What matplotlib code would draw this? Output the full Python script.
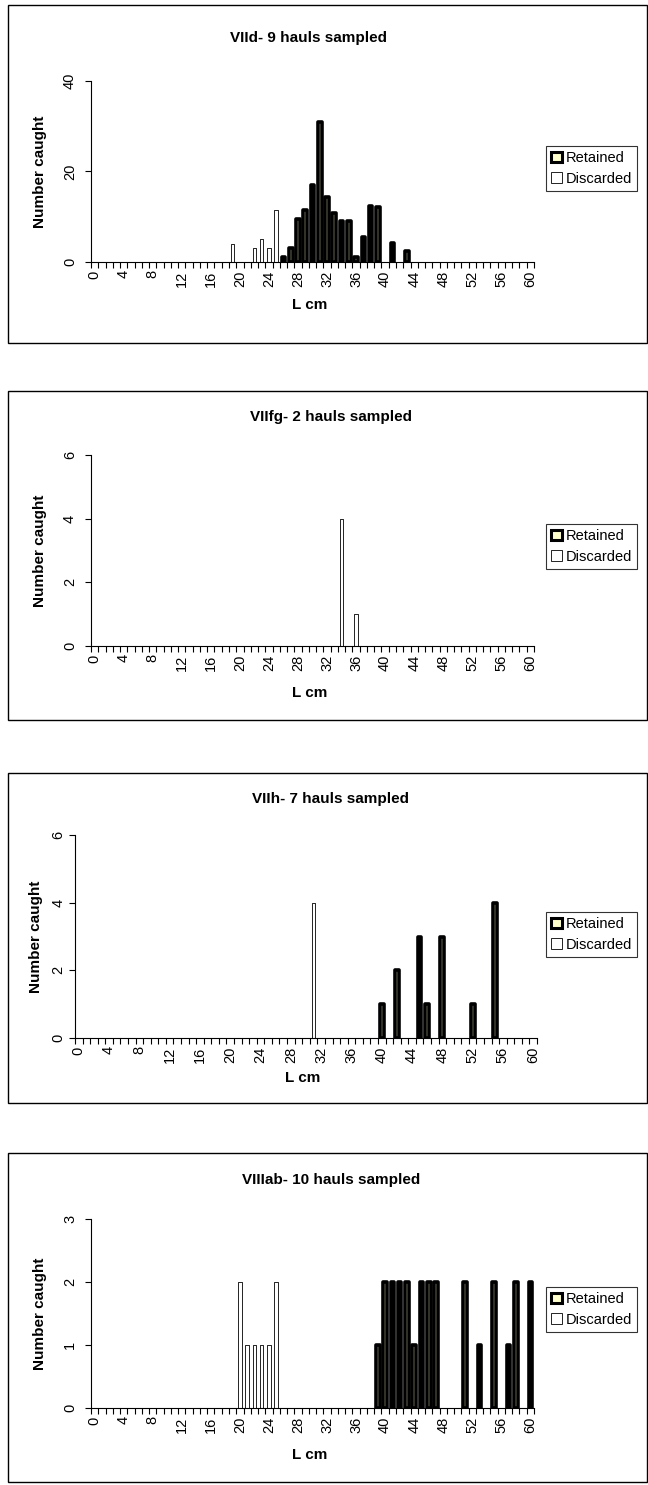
import matplotlib
matplotlib.use('Agg')
import matplotlib.pyplot as plt
from matplotlib.patches import Rectangle, Patch
import numpy as np

plt.rcParams['font.family'] = ['Liberation Sans', 'DejaVu Sans']

W, H = 648, 1485

# VIId - 9 hauls
d_ret_len = [26, 27, 28, 29, 30, 31, 32, 33, 34, 35, 36, 37, 38, 39, 41, 43]
d_ret_n = [1, 3, 9.5, 11.5, 17, 31, 14.3, 10.8, 9, 9, 1, 5.5, 12.4, 12.2, 4.3, 2.4]
d_dis_len = [19, 22, 23, 24, 25]
d_dis_n = [4, 3, 5, 3, 11.5]

# VIIfg - 2 hauls
fg_ret_len = []
fg_ret_n = []
fg_dis_len = [34, 36]
fg_dis_n = [4, 1]

# VIIh - 7 hauls
h_ret_len = [40, 42, 45, 46, 48, 52, 55]
h_ret_n = [1, 2, 3, 1, 3, 1, 4]
h_dis_len = [31]
h_dis_n = [4]

# VIIIab - 10 hauls
ab_ret_len = [39, 40, 41, 42, 43, 44, 45, 46, 47, 51, 53, 55, 57, 58, 60]
ab_ret_n = [1, 2, 2, 2, 2, 1, 2, 2, 2, 2, 1, 2, 1, 2, 2]
ab_dis_len = [20, 21, 22, 23, 24, 25]
ab_dis_n = [2, 1, 1, 1, 1, 2]

titles = ['VIId- 9 hauls sampled', 'VIIfg- 2 hauls sampled',
          'VIIh- 7 hauls sampled', 'VIIIab- 10 hauls sampled']
y_ticks = [[0, 20, 40], [0, 2, 4, 6], [0, 2, 4, 6], [0, 1, 2, 3]]
x_labels = list(range(0, 61, 4))

ret_color = '#FFFFCC'


def fig_rect(left, right, top, bottom):
    return [left / W, 1 - bottom / H, (right - left) / W, (bottom - top) / H]


fig = plt.figure(figsize=(W / 100, H / 100), dpi=100)

# (box top, box bottom, axes left, axes right, axes top, axes bottom, legend top,
#  title x, title y, xlabel y, ylabel x, ytick pad)
layout = [
    (5, 343, 91, 534, 81, 262, 146, 308, 38, 305, 40, 6),
    (391, 720, 91, 534, 455, 646, 524, 331, 417, 693, 40, 6),
    (773, 1103, 75, 537, 835, 1038, 912, 330, 799, 1078, 36, 3),
    (1153, 1482, 91, 534, 1219, 1408, 1287, 331, 1180, 1455, 40, 6),
]
series = [
    (d_ret_len, d_ret_n, d_dis_len, d_dis_n),
    (fg_ret_len, fg_ret_n, fg_dis_len, fg_dis_n),
    (h_ret_len, h_ret_n, h_dis_len, h_dis_n),
    (ab_ret_len, ab_ret_n, ab_dis_len, ab_dis_n),
]

for i in range(4):
    btop, bbot, al, ar, at, ab, legtop, tx, ty, xly, ylx, ypad = layout[i]
    ret_len, ret_n, dis_len, dis_n = series[i]

    fig.add_artist(Rectangle((8 / W, 1 - bbot / H), 639 / W, (bbot - btop) / H,
                             transform=fig.transFigure, fill=False, edgecolor='black', lw=1.0))

    ax = fig.add_axes(fig_rect(al, ar, at, ab))
    ax.bar(dis_len, dis_n, width=0.5, color='white', edgecolor='black', linewidth=0.6,
           joinstyle='round')
    if ret_len:
        ax.bar(ret_len, ret_n, width=0.5, color=ret_color, edgecolor='black', linewidth=2.6,
               joinstyle='round')

    ax.set_xlim(-0.5, 60.5)
    ax.set_ylim(y_ticks[i][0], y_ticks[i][-1])
    ax.set_xticks(x_labels)
    ax.set_xticklabels([str(v) for v in x_labels], rotation=90, fontsize=10.5)
    ax.set_xticks(np.arange(-0.5, 61, 1), minor=True)
    ax.tick_params(axis='x', which='major', length=0, pad=6)
    ax.tick_params(axis='x', which='minor', length=4, width=0.8, direction='out')
    ax.set_yticks(y_ticks[i])
    ax.set_yticklabels([str(v) for v in y_ticks[i]], rotation=90, va='center', fontsize=10.5)
    ax.tick_params(axis='y', length=4, width=0.8, direction='out', pad=ypad)
    for s in ['top', 'right']:
        ax.spines[s].set_visible(False)
    for s in ['left', 'bottom']:
        ax.spines[s].set_linewidth(0.8)
    ax.patch.set_alpha(0)

    fig.text(tx / W, 1 - ty / H, titles[i], ha='center', va='center',
             fontsize=11, fontweight='bold')
    fig.text((al + ar) / 2 / W - 0.005, 1 - xly / H, 'L cm', ha='center', va='center',
             fontsize=11, fontweight='bold')
    fig.text(ylx / W, 1 - (at + ab) / 2 / H, 'Number caught', ha='center', va='center',
             rotation=90, fontsize=11, fontweight='bold')

    handles = [Patch(facecolor=ret_color, edgecolor='black', linewidth=2.2, label='Retained'),
               Patch(facecolor='white', edgecolor='black', linewidth=0.6, label='Discarded')]
    leg = fig.legend(handles=handles, loc='upper left',
                     bbox_to_anchor=(546 / W, 1 - legtop / H), bbox_transform=fig.transFigure,
                     fontsize=10.5, frameon=True, fancybox=False, borderpad=0.35,
                     handlelength=0.75, handleheight=0.75, handletextpad=0.25,
                     labelspacing=0.45, borderaxespad=0)
    leg.get_frame().set_edgecolor('black')
    leg.get_frame().set_linewidth(0.8)

fig.savefig('out.png', dpi=100)
